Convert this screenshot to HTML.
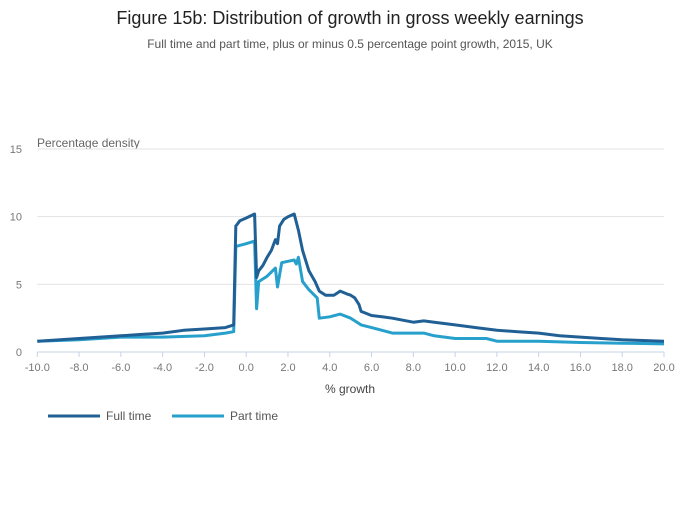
<!DOCTYPE html>
<html><head><meta charset="utf-8"><style>
body{margin:0;background:#fff;font-family:"Liberation Sans",sans-serif}
svg text{font-family:"Liberation Sans",sans-serif}
</style></head><body>
<svg id="c" width="700" height="502">
<text x="350" y="24" text-anchor="middle" font-size="18" fill="#222">Figure 15b: Distribution of growth in gross weekly earnings</text>
<text x="350" y="48" text-anchor="middle" font-size="12" fill="#555">Full time and part time, plus or minus 0.5 percentage point growth, 2015, UK</text>
<text x="37" y="147" font-size="12" fill="#666">Percentage density</text>
<text x="350" y="393" text-anchor="middle" font-size="12" fill="#444">% growth</text>
<g id="grid"></g><g id="series"></g>
<g>
<line x1="48" y1="416" x2="100" y2="416" stroke="#206095" stroke-width="3"/>
<text x="106" y="420" font-size="12" fill="#555">Full time</text>
<line x1="172" y1="416" x2="224" y2="416" stroke="#27a0cc" stroke-width="3"/>
<text x="230" y="420" font-size="12" fill="#555">Part time</text>
</g>
</svg>
<script>
const yTicks=[0,5,10,15];
const xTicks=[-10,-8,-6,-4,-2,0,2,4,6,8,10,12,14,16,18,20];
const ftX=[-10,-8,-7,-6,-5,-4,-3,-2,-1,-0.6,-0.5,-0.3,0,0.4,0.5,0.6,0.8,1.0,1.2,1.4,1.5,1.6,1.8,2.0,2.3,2.5,2.7,3.0,3.3,3.5,3.8,4.2,4.5,4.8,5.0,5.2,5.4,5.5,6.0,6.5,7,8,8.5,9,10,11,12,13,14,15,16,17,18,19,20];
const ftY=[0.8,1.0,1.1,1.2,1.3,1.4,1.6,1.7,1.8,2.0,9.3,9.7,9.9,10.2,5.5,6.0,6.4,7.0,7.5,8.3,8.0,9.3,9.8,10.0,10.2,9.0,7.5,6.0,5.2,4.5,4.2,4.2,4.5,4.3,4.2,4.0,3.5,3.0,2.7,2.6,2.5,2.2,2.3,2.2,2.0,1.8,1.6,1.5,1.4,1.2,1.1,1.0,0.9,0.85,0.8];
const ptX=[-10,-8,-6,-4,-2,-1,-0.6,-0.5,0,0.4,0.5,0.6,1.0,1.4,1.5,1.7,2.0,2.3,2.4,2.5,2.7,3.0,3.4,3.5,4.0,4.5,5.0,5.5,6,7,8,8.5,9,10,11.5,12,14,16,18,20];
const ptY=[0.8,0.9,1.1,1.1,1.2,1.4,1.5,7.8,8.0,8.2,3.2,5.2,5.6,6.2,4.8,6.6,6.7,6.8,6.5,7.0,5.2,4.6,4.0,2.5,2.6,2.8,2.5,2.0,1.8,1.4,1.4,1.4,1.2,1.0,1.0,0.8,0.8,0.7,0.65,0.6];
const X0=37.3,X1=664,Y0=352,Y1=149;
const sx=v=>X0+(v+10)/30*(X1-X0);
const sy=v=>Y0-v/15*(Y0-Y1);
const NS="http://www.w3.org/2000/svg";
const grid=document.getElementById('grid'),ser=document.getElementById('series');
function mk(t,a,p){const e=document.createElementNS(NS,t);for(const k in a)e.setAttribute(k,a[k]);p.appendChild(e);return e;}
yTicks.forEach(v=>{
 if(v>0){const l=mk('line',{x1:X0,x2:X1,y1:sy(v),y2:sy(v),stroke:'#e3e3e3'},grid);
 
 }
 const t=mk('text',{x:22,y:sy(v)+4,'text-anchor':'end','font-size':11,fill:'#777'},grid);t.textContent=v;
 
 
});
const ax=mk('line',{x1:X0,x2:X1,y1:Y0,y2:Y0,stroke:'#c6d3e6'},grid);


xTicks.forEach(v=>{
 const l=mk('line',{x1:sx(v),x2:sx(v),y1:Y0,y2:Y0+5,stroke:'#c6d3e6'},grid);
 
 
 const t=mk('text',{x:sx(v),y:Y0+19,'text-anchor':'middle','font-size':11,fill:'#777'},grid);t.textContent=v.toFixed(1);
 
 
});
function line(xs,ys,c,n){
 const p=mk('path',{d:xs.map((x,i)=>(i?'L':'M')+sx(x).toFixed(1)+','+sy(ys[i]).toFixed(1)).join(''),fill:'none',stroke:c,'stroke-width':3,'stroke-linejoin':'round'},ser);
 
 
}
line(ptX,ptY,'#27a0cc','part-time-line');
line(ftX,ftY,'#206095','full-time-line');
</script>
</body></html>
